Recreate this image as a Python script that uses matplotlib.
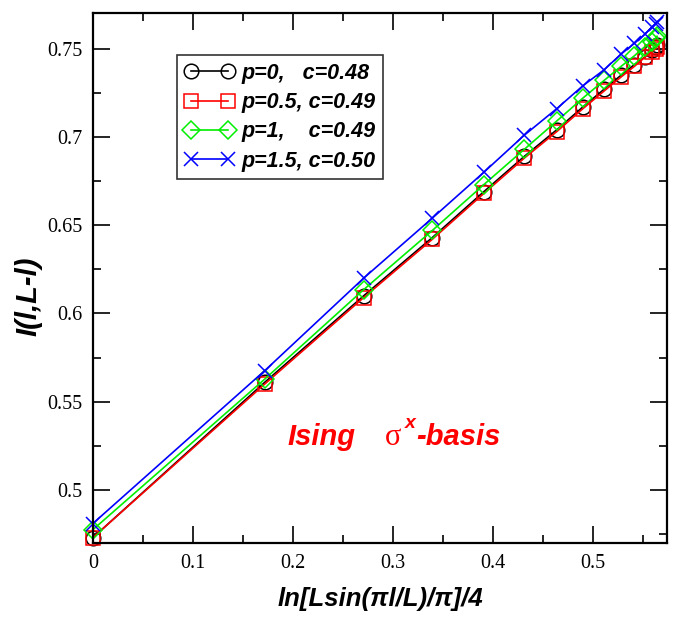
import matplotlib
matplotlib.use("Agg")
import matplotlib.pyplot as plt
from matplotlib.ticker import MultipleLocator, FuncFormatter

# x = ln[L sin(pi l/L)/pi]/4 (l = 1..15)
x_vals = [-0.0005, 0.1715, 0.2705, 0.3392, 0.3908, 0.4313, 0.4637, 0.4899,
          0.5111, 0.5282, 0.5415, 0.5516, 0.5586, 0.5628, 0.5641]

y_p0 = [0.473, 0.561, 0.610, 0.643, 0.669, 0.689, 0.704, 0.717,
        0.727, 0.735, 0.741, 0.745, 0.749, 0.751, 0.752]
y_p05 = [0.473, 0.560, 0.609, 0.642, 0.668, 0.688, 0.703, 0.716,
         0.726, 0.734, 0.740, 0.745, 0.748, 0.750, 0.751]
y_p1 = [0.4775, 0.5628, 0.6135, 0.647, 0.673, 0.693, 0.709, 0.722,
        0.732, 0.740, 0.746, 0.751, 0.754, 0.756, 0.757]
y_p15 = [0.481, 0.5676, 0.620, 0.654, 0.680, 0.701, 0.716, 0.729,
         0.738, 0.747, 0.753, 0.758, 0.762, 0.764, 0.765]

labels = ["p=0,   c=0.48", "p=0.5, c=0.49", "p=1,    c=0.49", "p=1.5, c=0.50"]

W, H = 677, 622
fig = plt.figure(figsize=(W / 100, H / 100), dpi=100)
ax = fig.add_axes([0.1378, 0.127, 0.9852 - 0.1378, 0.9786 - 0.127])

common = dict(lw=1.2, mfc="none", mew=1.1, clip_on=False)
ax.plot(x_vals, y_p0, color="black", marker="o", ms=10.5, mec="black",
        label=labels[0], **common)
ax.plot(x_vals, y_p05, color="#ff0000", marker="s", ms=9.5, mec="#ff0000",
        label=labels[1], **common)
ax.plot(x_vals, y_p1, color="#00ee00", marker="D", ms=9.5, mec="#00ee00",
        label=labels[2], **common)
ax.plot(x_vals, y_p15, color="#0000ff", marker="x", ms=10, mec="#0000ff",
        label=labels[3], **common)

ax.set_xlim(0, 0.574)
ax.set_ylim(0.47, 0.77)

ax.xaxis.set_major_locator(MultipleLocator(0.1))
ax.xaxis.set_minor_locator(MultipleLocator(0.05))
ax.yaxis.set_major_locator(MultipleLocator(0.05))
ax.yaxis.set_minor_locator(MultipleLocator(0.025))

def fmt(v, pos):
    s = ("%.2f" % v).rstrip("0").rstrip(".")
    return s if s != "-0" else "0"

ax.xaxis.set_major_formatter(FuncFormatter(fmt))
ax.yaxis.set_major_formatter(FuncFormatter(fmt))

ax.tick_params(which="both", direction="in", top=True, right=True, width=1.2)
ax.tick_params(which="major", length=12, labelsize=14.5, pad=8)
ax.tick_params(which="minor", length=6)
for lab in ax.get_xticklabels() + ax.get_yticklabels():
    lab.set_fontfamily("Liberation Serif")
for sp in ax.spines.values():
    sp.set_linewidth(1.6)

ax.set_xlabel("ln[Lsin(πl/L)/π]/4", fontsize=18.5, fontweight="bold",
              fontstyle="italic", family="Liberation Sans", labelpad=10)
ax.set_ylabel("I(l,L-l)", fontsize=21, fontweight="bold",
              fontstyle="italic", family="Liberation Sans")
ax.yaxis.set_label_coords(-0.088, 0.465)

leg = ax.legend(loc="upper left", bbox_to_anchor=(0.146, 0.921),
                borderaxespad=0, numpoints=2, frameon=True, fancybox=False,
                handlelength=2.3, handletextpad=0.35, borderpad=0.35,
                labelspacing=0.39,
                prop={"family": "Liberation Sans", "weight": "bold",
                      "style": "italic", "size": 15.5})
leg.get_frame().set_edgecolor("black")
leg.get_frame().set_linewidth(1.2)

# "Ising  sigma^x-basis" annotation, pieced together in figure pixels
red = "#ff0000"
def ftext(px, py, s, **kw):
    fig.text(px / W, 1 - py / H, s, color=red, va="baseline", ha="left", **kw)

ftext(287, 445, "Ising", fontsize=21, fontweight="bold", fontstyle="italic",
      family="Liberation Sans")
ftext(385, 445, "σ", fontsize=22, family="Liberation Serif")
ftext(405, 428, "x", fontsize=14, fontweight="bold", fontstyle="italic",
      family="Liberation Sans")
ftext(416, 445, "-basis", fontsize=21, fontweight="bold", fontstyle="italic",
      family="Liberation Sans")

fig.savefig("out.png", dpi=100)
